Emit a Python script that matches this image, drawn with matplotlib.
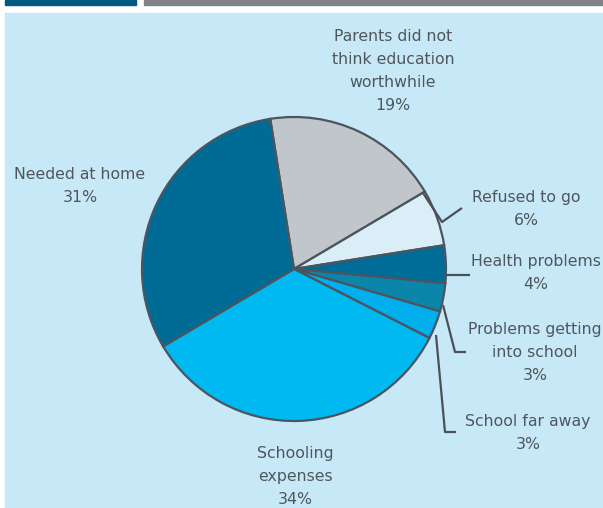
import matplotlib.pyplot as plt
from matplotlib.patches import Rectangle

# Reasons for not attending school (%), clockwise from the top
reasons = ["Parents did not\nthink education\nworthwhile", "Refused to go", "Health problems",
           "Problems getting\ninto school", "School far away", "Schooling\nexpenses", "Needed at home"]
shares = [19, 6, 4, 3, 3, 34, 31]
colors = ["#c1c6cb", "#d9eef7", "#006d99", "#0b86aa", "#00afec", "#00b9f1", "#006c96"]

# label anchor (x, y in pixels from top-left) for each slice
label_pos = [(393, 29), (526, 190), (536, 254), (535, 322), (528, 414), (295, 446), (80, 167)]

W, H = 603, 508
fig = plt.figure(figsize=(W / 100, H / 100), dpi=100)
ax = fig.add_axes([0, 0, 1, 1])

def Y(y):
    return H - y

# header bars and panel background
ax.add_patch(Rectangle((5, 0), W - 5, H - 13, color="#c7e9f7", zorder=0))
ax.add_patch(Rectangle((5, Y(5)), 131, 5, color="#005a80", zorder=1))
ax.add_patch(Rectangle((144, Y(5)), W - 144, 5, color="#818387", zorder=1))

cx, cy, r = 294, Y(269), 152
ax.pie(shares, colors=colors, startangle=99, counterclock=False,
       center=(cx, cy), radius=r, frame=True,
       wedgeprops=dict(edgecolor="#4b5560", linewidth=1.6))
ax.set_xlim(0, W)
ax.set_ylim(0, H)
ax.set_aspect("equal")
ax.axis("off")

txt = "#4f565e"
for name, val, (lx, ly) in zip(reasons, shares, label_pos):
    ax.text(lx, Y(ly), f"{name}\n{val}%", ha="center", va="top", fontsize=11.3,
            color=txt, family="DejaVu Sans", linespacing=1.68)

# leader lines for the small slices
lc = dict(color="#4b5058", lw=1.6, solid_capstyle="butt")
ax.plot([423, 442, 462], [Y(193), Y(222), Y(208)], **lc)
ax.plot([446, 470], [Y(275), Y(275)], **lc)
ax.plot([443, 455, 466], [Y(305), Y(352), Y(352)], **lc)
ax.plot([436, 445, 456], [Y(335), Y(432), Y(432)], **lc)

fig.savefig("out.png", dpi=100)
